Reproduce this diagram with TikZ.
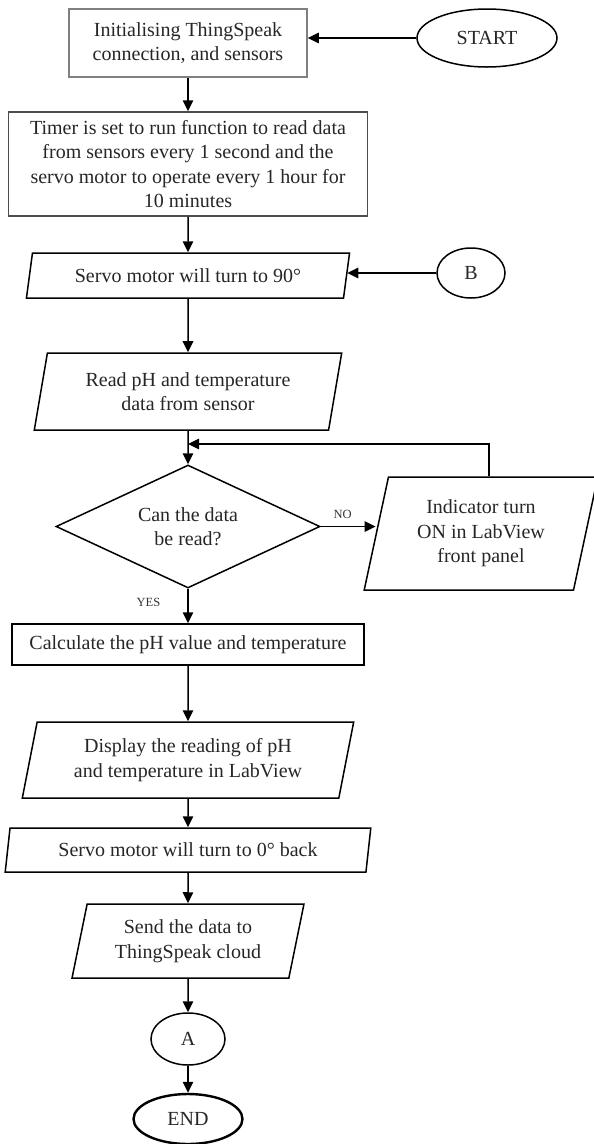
\documentclass[tikz,border=0pt]{standalone}
\usepackage{fontspec}
\setmainfont{Liberation Serif}
\usetikzlibrary{shapes.geometric,arrows.meta}
\begin{document}
\begin{tikzpicture}[x=1pt,y=-1pt,line width=1.5pt,
  txt/.style={font=\fontsize{20pt}{24.5pt}\selectfont,text=black!85,align=center,inner sep=0pt},
  procbox/.style={txt,draw,rectangle},
  iobox/.style={txt,draw,trapezium,trapezium left angle=#1,trapezium right angle={180-#1},trapezium stretches=true},
  decision/.style={txt,draw,diamond,aspect=2.13},
  term/.style={txt,draw,ellipse},
  flag/.style={font=\fontsize{12.5pt}{14pt}\selectfont,text=black!80,inner sep=0pt},
  flow/.style={-{Triangle[length=11pt,width=10.5pt]}}]
  \useasboundingbox (0,0) rectangle (594,1144);

  % main column
  \node[procbox,draw=black!50,minimum width=238pt,minimum height=68pt] (init) at (188,43) {Initialising ThingSpeak\\connection, and sensors};
  \node[term,minimum width=140pt,minimum height=58pt] (start) at (487,38) {START};
  \node[procbox,draw=black!70,minimum width=359pt,minimum height=104pt] (timer) at (188,164) {Timer is set to run function to read data\\from sensors every 1 second and the\\servo motor to operate every 1 hour for\\10 minutes};
  \node[iobox=72.7,minimum width=324pt,minimum height=45pt] (servoup) at (188,275.5) {Servo motor will turn to 90°};
  \node[term,minimum width=68pt,minimum height=50pt] (conB) at (471,273) {B};
  \node[iobox=76.1,minimum width=308pt,minimum height=77pt] (readph) at (188,391.5) {Read pH and temperature\\data from sensor};
  \node[decision,minimum width=264pt,minimum height=123pt] (canread) at (188,526.5) {Can the data\\be read?};
  \node[iobox=76,minimum width=234pt,minimum height=113pt] (indicator) at (481,533.5) {Indicator turn\\ON in LabView\\front panel};
  \node[procbox,minimum width=352pt,minimum height=41pt] (calc) at (188,644.5) {Calculate the pH value and temperature};
  \node[iobox=75.3,minimum width=332pt,minimum height=76pt] (display) at (188,760) {Display the reading of pH\\and temperature in LabView};
  \node[iobox=76,minimum width=366pt,minimum height=44pt] (servodown) at (188,850) {Servo motor will turn to 0° back};
  \node[iobox=75.6,minimum width=232pt,minimum height=74pt] (send) at (188,941) {Send the data to\\ThingSpeak cloud};
  \node[term,minimum width=74pt,minimum height=52pt] (conA) at (188,1039) {A};
  \node[term,line width=2.4pt,minimum width=109pt,minimum height=50pt] (finish) at (188,1119) {END};

  % connectors
  \draw[flow] (start.west) -- (start.west -| init.east);
  \draw[flow] (init) -- (timer);
  \draw[flow] (timer) -- (servoup);
  \draw[flow] (conB.west) -- (conB.west -| servoup.east);
  \draw[flow] (servoup) -- (readph);
  \draw[flow] (readph) -- (canread);
  % loop back from the indicator
  \coordinate (loop) at (188,444);
  \draw[flow] ([xshift=8pt]indicator.north) |- (loop);
  \draw[flow] (canread.east) -- node[flag,above=7pt,pos=0.4] {NO} (canread.east -| indicator.west);
  \draw[flow] (canread) -- node[flag,left=27pt,pos=0.4] {YES} (calc);
  \draw[flow] (calc) -- (display);
  \draw[flow] (display) -- (servodown);
  \draw[flow] (servodown) -- (send);
  \draw[flow] (send) -- (conA);
  \draw[flow] (conA) -- (finish);
\end{tikzpicture}
\end{document}
